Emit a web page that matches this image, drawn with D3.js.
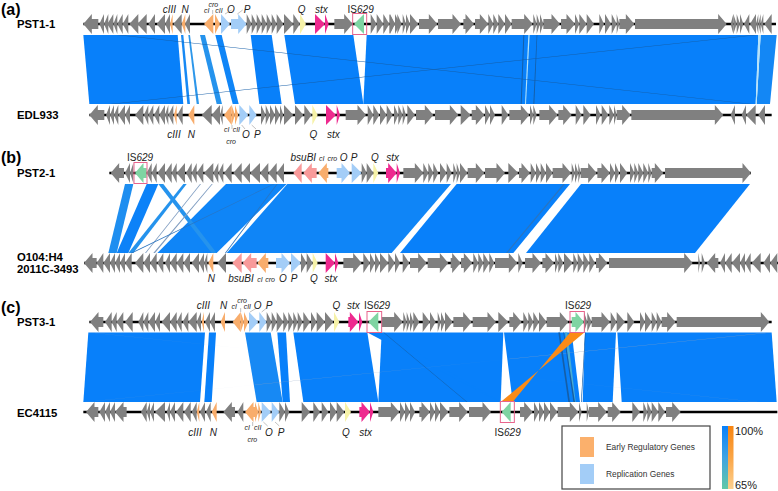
<!DOCTYPE html>
<html>
<head>
<meta charset="utf-8">
<script src="https://cdn.jsdelivr.net/npm/d3@7"></script>
<style>
html, body { margin: 0; padding: 0; background: #fff; }
text { font-family: "Liberation Sans", Arial, sans-serif; }
</style>
</head>
<body>
<div id="place"></div>
<script>
// genes: [start, end] on the shared position axis, grouped by strand and kind
const a1Left = [[250,295],[298,312],[312,325],[322,340],[340,352],[352,368],[368,385],[388,415],[412,440],[445,465],[470,495],[495,510],[520,545],[555,570],[2192,2200],[2232,2248],[2250,2268],[2268,2275],[2275,2282],[2282,2290],[2293,2315]];
const a1Right = [[740,755],[755,770],[770,785],[785,800],[800,815],[815,830],[830,850],[852,880],[880,900],[1003,1058],[1112,1130],[1130,1150],[1150,1168],[1168,1185],[1185,1200],[1170,1185],[1192,1205],[1208,1218],[1218,1230],[1230,1255],[1257,1312],[1314,1383],[1390,1422],[1425,1465],[1465,1480],[1480,1495],[1495,1515],[1515,1535],[1535,1598],[1600,1610],[1610,1620],[1620,1630],[1630,1680],[1683,1725],[1725,1738],[1738,1760],[1760,1782],[1798,1812],[1815,1833],[1835,1850],[1850,1858],[1858,1903],[1905,2180],[2200,2210],[2210,2220],[2220,2230]];
const a1Colored = [[510,518,-1,"early"],[545,556,-1,"early"],[612,640,-1,"early"],[645,660,1,"early"],[663,690,1,"repl"],[693,740,1,"repl"],[900,918,1,"q"],[945,975,1,"stx"],[975,986,1,"stx"],[1062,1092,-1,"is"]];

const a2Left = [[268,313],[318,330],[330,342],[342,355],[355,375],[375,390],[405,430],[432,445],[445,460],[462,478],[478,495],[495,505],[505,520],[532,548],[605,635],[635,660],[660,668],[2192,2205],[2225,2238],[2238,2267],[2275,2295]];
const a2Right = [[783,797],[797,810],[810,825],[825,840],[840,850],[852,880],[885,910],[913,935],[1037,1098],[1103,1120],[1120,1138],[1140,1160],[1160,1178],[1182,1195],[1195,1208],[1208,1218],[1222,1245],[1248,1300],[1305,1375],[1382,1412],[1415,1453],[1455,1470],[1470,1485],[1505,1525],[1528,1588],[1590,1600],[1600,1610],[1618,1673],[1675,1715],[1727,1745],[1750,1772],[1788,1802],[1805,1825],[1828,1842],[1842,1850],[1850,1892],[1894,2170]];
const a2Colored = [[522,530,-1,"early"],[565,583,-1,"early"],[672,695,-1,"early"],[695,705,1,"early"],[705,715,1,"early"],[718,745,1,"repl"],[748,770,1,"repl"],[937,953,1,"q"],[978,1008,1,"stx"],[1010,1020,1,"stx"]];

const b1Left = [[332,372],[375,390],[390,400],[440,455],[455,470],[472,495],[495,515],[515,530],[530,555],[558,575],[575,590],[590,610],[612,640],[640,655],[655,670],[672,695],[700,725],[725,750],[750,780],[780,805],[805,830],[830,852]];
const b1Right = [[1085,1100],[1100,1120],[1210,1270],[1270,1285],[1285,1300],[1300,1315],[1320,1340],[1340,1355],[1360,1370],[1370,1380],[1380,1402],[1403,1453],[1455,1515],[1525,1555],[1557,1590],[1592,1608],[1608,1622],[1622,1638],[1638,1658],[1658,1713],[1715,1725],[1725,1735],[1735,1742],[1742,1790],[1792,1830],[1830,1845],[1845,1858],[1860,1882],[1890,1903],[1903,1915],[1915,1930],[1930,1945],[1945,1955],[1955,1990],[1995,2253]];
const b1Colored = [[405,440,-1,"is"],[880,905,-1,"bsu"],[910,950,-1,"bsu"],[955,985,-1,"early"],[1010,1050,1,"repl"],[1055,1085,1,"repl"],[1120,1135,1,"q"],[1158,1190,1,"stx"],[1190,1200,1,"stx"]];

const b2Left = [[252,290],[290,310],[310,330],[330,345],[345,360],[360,375],[375,395],[405,430],[430,450],[450,470],[472,490],[495,510],[510,530],[530,550],[550,570],[575,597],[597,612],[612,622],[652,678],[2120,2155],[2160,2175],[2175,2195],[2195,2220],[2220,2235],[2235,2252],[2255,2282],[2290,2310],[2310,2332]];
const b2Right = [[903,920],[920,938],[1030,1085],[1090,1110],[1110,1125],[1125,1140],[1140,1165],[1165,1185],[1185,1200],[1208,1228],[1230,1280],[1283,1345],[1352,1382],[1383,1417],[1420,1435],[1435,1450],[1450,1468],[1468,1483],[1485,1552],[1555,1568],[1575,1623],[1627,1662],[1665,1675],[1675,1690],[1692,1718],[1720,1733],[1733,1750],[1750,1768],[1768,1785],[1788,1822],[1827,2078],[2095,2100],[2105,2115]];
const b2Colored = [[625,640,-1,"early"],[697,725,-1,"bsu"],[728,770,-1,"bsu"],[772,805,-1,"early"],[828,870,1,"repl"],[873,903,1,"repl"],[938,953,1,"q"],[977,1005,1,"stx"],[1005,1015,1,"stx"]];

const c1Left = [[270,310],[315,335],[335,350],[350,370],[375,398],[415,430],[430,445],[445,465],[465,480],[485,510],[510,530],[530,545],[548,565],[565,590],[590,603],[615,630],[630,645]];
const c1Right = [[800,815],[815,830],[830,850],[850,865],[865,880],[880,893],[893,908],[910,930],[933,950],[950,975],[975,1000],[1145,1208],[1210,1220],[1220,1230],[1230,1240],[1240,1258],[1268,1290],[1290,1307],[1313,1323],[1323,1335],[1335,1358],[1360,1415],[1418,1488],[1495,1525],[1528,1565],[1570,1585],[1585,1600],[1600,1617],[1617,1640],[1640,1705],[1752,1762],[1762,1775],[1775,1830],[1832,1850],[1850,1875],[1882,1903],[1920,1935],[1935,1955],[1955,1970],[1970,1985],[1985,2027],[2030,2308]];
const c1Colored = [[605,612,-1,"early"],[662,675,-1,"early"],[698,722,-1,"early"],[722,732,1,"early"],[732,745,1,"early"],[747,775,1,"repl"],[778,800,1,"repl"],[1002,1018,1,"q"],[1045,1075,1,"stx"],[1077,1087,1,"stx"],[1105,1135,-1,"is"],[1715,1752,1,"is"]];

const c2Left = [[258,295],[298,315],[315,330],[330,345],[345,380],[423,440],[440,450],[450,462],[465,495],[500,510],[510,525],[528,550],[552,572],[575,590],[600,615],[618,632],[670,705],[712,730]];
const c2Right = [[838,855],[855,868],[905,930],[940,960],[965,985],[990,1010],[1010,1033],[1135,1198],[1200,1215],[1215,1230],[1230,1245],[1258,1290],[1290,1305],[1305,1320],[1320,1345],[1348,1403],[1407,1473],[1560,1598],[1602,1617],[1617,1632],[1632,1650],[1650,1672],[1673,1735],[1737,1745],[1760,1767],[1767,1820],[1823,1862],[1897,1920],[1930,1942],[1942,1955],[1955,1975],[1975,1995],[1998,2042]];
const c2Colored = [[590,598,-1,"early"],[635,650,-1,"early"],[735,765,-1,"early"],[765,775,1,"early"],[775,783,1,"early"],[785,813,1,"repl"],[815,838,1,"repl"],[1035,1053,1,"q"],[1078,1110,1,"stx"],[1110,1120,1,"stx"],[1505,1532,-1,"is"]];

// blocks of similarity: [top start, top end, bottom start, bottom end, % identity]
const aBlocks = [[250,533,268,550,100],[543,550,562,570,96],[565,570,590,597,90],[600,615,650,666,92],[646,665,698,716,98],[752,815,778,845,100],[853,1060,885,1090,100],[1100,2275,1090,2267,100],[2282,2330,2270,2310,97]];
const bBlocks = [[375,400,325,350,94],[440,475,350,385,99],[550,560,385,400,92],[678,860,472,650,98],[862,1353,680,1175,98],[1370,1710,1200,1540,100],[1743,2250,1578,2085,100],[475,490,635,650,92]];
const cBlocks = [[265,615,250,600,100],[627,648,613,635,100],[735,812,770,848,96],[832,858,848,870,100],[880,1102,910,1135,100],[1145,1510,1135,1502,100],[1512,1715,1538,1740,100],[1755,1848,1748,1838,100],[1852,2315,1865,2330,100],[1102,1145,1500,1503,100]];
const cBlocksPale = [[1695,1702,1720,1727,80]];
const cInverted = [[1710,1753,1538,1502,100]];

// short matches that read as thin dark lines: [top start, top end, bottom start, bottom end]
const aDark = [[350,362,2245,2255],[2260,2272,330,342],[1570,1573,1562,1565],[1610,1612,1600,1603]];
const bDark = [[1690,1695,1518,1522],[830,833,675,678],[820,823,392,398]];
const bGrey = [[600,603,435,438],[635,638,460,465]];
const cDark = [[1675,1680,1705,1710],[1690,1692,1720,1725],[1755,1757,1743,1745],[1150,1152,1400,1402]];
const cGrey = [[270,273,2270,2273],[2310,2313,255,258]];
const aPale = [[1585,1589,1575,1578],[2275,2282,2267,2270]];

// gene names on the tracks: [name, position, row]
const a1Names = [["cIII",508,0],["N",555,0],["cro",640,-1],["cI",620,0],["cII",657,0],["O",693,0],["P",741,0],["Q",905,0],["stx",964,0]];
const a2Names = [["cIII",522,0],["N",574,0],["cI",680,-1],["cII",709,-1],["cro",693,1],["O",738,0],["P",772,0],["Q",940,0],["stx",1000,0]];
const b1Names = [["bsuBI",910,0],["cI",965,0],["cro",997,0],["O",1031,0],["P",1062,0],["Q",1125,0],["stx",1178,0]];
const b2Names = [["N",634,0],["bsuBI",723,0],["cI",780,0],["cro",810,0],["O",849,0],["P",882,0],["Q",942,0],["stx",993,0]];
const c1Names = [["cIII",610,0],["N",671,0],["cro",726,-1],["cI",703,0],["cII",742,0],["O",773,0],["P",807,0],["Q",1009,0],["stx",1060,0]];
const c2Names = [["cIII",585,0],["N",640,0],["cI",742,-1],["cII",773,-1],["cro",757,1],["O",807,0],["P",843,0],["Q",1038,0],["stx",1097,0]];

const isLabels = [["a1",1082],["b1",420],["c1",1131],["c1",1734],["c2",1523]];
const isBoxes = [["a1",1058,1100],["b1",402,441],["c1",1101,1145],["c1",1710,1753],["c2",1501,1543]];

// thin connectors from a gene up or down to its name
const leaderLines = [["a1",675,695],["a1",712,728],["a1",638,638],["a2",725,735],["a2",755,768],["a2",696,696],["c1",750,770],["c1",785,800],["c1",722,722],["c2",790,803],["c2",825,838],["c2",758,758]];

const legendNames = ["Early Regulatory Genes", "Replication Genes"];
const identityTicks = ["100%", "65%"];

const width = 778, height = 491;
const x = d3.scaleLinear().domain([0, 2334]).range([0, width]);

const trackY = { a1: 24, a2: 115, b1: 173, b2: 263, c1: 322, c2: 412 };
const trackLine = { a1: [250, 2328], a2: [268, 2315], b1: [328, 2253], b2: [252, 2334], c1: [268, 2315], c2: [250, 2332] };
const bandY = { a: [35, 104], b: [184, 253], c: [332.5, 402] };

const geneColor = { gray: "#808080", early: "#f8ad6c", repl: "#a3cdf7", q: "#f6f2a8", stx: "#ee2a8f", is: "#7fd4a2", bsu: "#f89a9a" };
const blueScale = d3.scaleLinear().domain([65, 85, 100]).range(["#62c8a6", "#3fa3e2", "#0880fa"]);
const orangeScale = d3.scaleLinear().domain([65, 100]).range(["#fdd08e", "#f78410"]);

const svg = d3.select("#place").append("svg")
    .attr("width", width).attr("height", height)
    .style("display", "block");

const closed = d3.line().curve(d3.curveLinearClosed);

function ribbon(d, band) {
    const [y0, y1] = bandY[band];
    return closed([[x(d[0]), y0], [x(d[1]), y0], [x(d[3]), y1], [x(d[2]), y1]]);
}

function geneShape(d, y, dir) {
    const a = x(d[0]), b = x(d[1]), len = b - a;
    const head = Math.min(len, 8.5), hh = 10, bh = 5;
    if (dir > 0) {
        if (len <= 10) return closed([[a, y - hh], [b, y], [a, y + hh]]);
        return closed([[a, y - bh], [b - head, y - bh], [b - head, y - hh], [b, y], [b - head, y + hh], [b - head, y + bh], [a, y + bh]]);
    }
    if (len <= 10) return closed([[b, y - hh], [a, y], [b, y + hh]]);
    return closed([[b, y - bh], [a + head, y - bh], [a + head, y - hh], [a, y], [a + head, y + hh], [a + head, y + bh], [b, y + bh]]);
}

function drawBlocks(data, band, fill) {
    svg.append("g").selectAll("path").data(data).join("path")
        .attr("d", d => ribbon(d, band))
        .attr("fill", fill);
}

// similarity bands first so the tracks sit on top
drawBlocks(aBlocks, "a", d => blueScale(d[4]));
drawBlocks(aPale, "a", "#b4e2f8");
drawBlocks(aDark, "a", "#155ea8");
drawBlocks(bBlocks, "b", d => blueScale(d[4]));
drawBlocks(bGrey, "b", "#7f9cc0");
drawBlocks(bDark, "b", "#2a74c0");
drawBlocks(cBlocks, "c", d => blueScale(d[4]));
drawBlocks(cBlocksPale, "c", d => blueScale(d[4]));
drawBlocks(cGrey, "c", "#8aa0c0");
drawBlocks(cDark, "c", "#155ea8");
drawBlocks(cInverted, "c", "#fb8b17");

function drawTrack(key, left, right, colored) {
    const y = trackY[key];
    const g = svg.append("g");
    g.append("line")
        .attr("x1", x(trackLine[key][0])).attr("x2", x(trackLine[key][1]))
        .attr("y1", y).attr("y2", y)
        .attr("stroke", "#000").attr("stroke-width", 2.5);
    g.selectAll(".l").data(left).join("path").attr("class", "l")
        .attr("d", d => geneShape(d, y, -1)).attr("fill", geneColor.gray);
    g.selectAll(".r").data(right).join("path").attr("class", "r")
        .attr("d", d => geneShape(d, y, 1)).attr("fill", geneColor.gray);
    g.selectAll(".c").data(colored).join("path").attr("class", "c")
        .attr("d", d => geneShape(d, y, d[2])).attr("fill", d => geneColor[d[3]]);
}

drawTrack("a1", a1Left, a1Right, a1Colored);
drawTrack("a2", a2Left, a2Right, a2Colored);
drawTrack("b1", b1Left, b1Right, b1Colored);
drawTrack("b2", b2Left, b2Right, b2Colored);
drawTrack("c1", c1Left, c1Right, c1Colored);
drawTrack("c2", c2Left, c2Right, c2Colored);

svg.append("g").selectAll("rect").data(isBoxes).join("rect")
    .attr("x", d => x(d[1])).attr("width", d => x(d[2]) - x(d[1]))
    .attr("y", d => trackY[d[0]] - 10.5).attr("height", 21)
    .attr("fill", "none").attr("stroke", "#e8648c").attr("stroke-width", 1);

// names above the first track of a pair, below the second
const nameOffset = { a1: -15, a2: 19, b1: -16, b2: 15, c1: -17, c2: 20 };

function drawNames(key, names) {
    const y = trackY[key] + nameOffset[key];
    svg.append("g").selectAll("text").data(names).join("text")
        .attr("x", d => x(d[1]))
        .attr("y", d => y + d[2] * 6 + 3.5)
        .attr("text-anchor", "middle")
        .attr("font-style", "italic")
        .attr("font-size", d => (d[0] == "cI" || d[0] == "cII" || d[0] == "cro") ? 7 : 10)
        .attr("fill", "#222")
        .text(d => d[0]);
}

drawNames("a1", a1Names);
drawNames("a2", a2Names);
drawNames("b1", b1Names);
drawNames("b2", b2Names);
drawNames("c1", c1Names);
drawNames("c2", c2Names);

const isText = svg.append("g").selectAll("text").data(isLabels).join("text")
    .attr("x", d => x(d[1]))
    .attr("y", d => trackY[d[0]] + nameOffset[d[0]] + 3.5)
    .attr("text-anchor", "middle").attr("font-size", 10).attr("fill", "#222");
isText.append("tspan").text("IS");
isText.append("tspan").attr("font-style", "italic").text("629");

svg.append("g").selectAll("line").data(leaderLines).join("line")
    .attr("x1", d => x(d[1])).attr("x2", d => x(d[2]))
    .attr("y1", d => trackY[d[0]] + (nameOffset[d[0]] < 0 ? -10 : 10))
    .attr("y2", d => trackY[d[0]] + (nameOffset[d[0]] < 0 ? -14 : 14))
    .attr("stroke", "#999").attr("stroke-width", 0.6);

// strain names and panel letters
const strainLabels = [["PST1-1", 24], ["EDL933", 115], ["PST2-1", 173], ["O104:H4", 257], ["2011C-3493", 269], ["PST3-1", 322], ["EC4115", 413]];
const panelLabels = [["(a)", 9], ["(b)", 157], ["(c)", 307]];

svg.append("g").selectAll("text").data(strainLabels).join("text")
    .attr("x", 17).attr("y", d => d[1] + 4)
    .attr("font-size", 11.3).attr("font-weight", "bold").text(d => d[0]);
svg.append("g").selectAll("text").data(panelLabels).join("text")
    .attr("x", 1).attr("y", d => d[1] + 5.5)
    .attr("font-size", 16).attr("font-weight", "bold").text(d => d[0]);

// legend
svg.append("rect").attr("x", 562).attr("y", 426).attr("width", 148).attr("height", 63)
    .attr("fill", "#fff").attr("stroke", "#444").attr("stroke-width", 1.2);

const legend = svg.append("g").selectAll("g").data(legendNames).join("g")
    .attr("transform", (d, i) => "translate(0," + (437 + i * 27) + ")");
legend.append("rect").attr("x", 580).attr("width", 14).attr("height", 20)
    .attr("fill", (d, i) => i == 0 ? "#fbb06c" : "#a3cdf7");
legend.append("text").attr("x", 606).attr("y", 13)
    .attr("font-size", 8.4).attr("fill", "#333").text(d => d);

// identity colour bars
const defs = svg.append("defs");
function barGradient(id, scale) {
    const grad = defs.append("linearGradient").attr("id", id)
        .attr("x1", 0).attr("x2", 0).attr("y1", 0).attr("y2", 1);
    [100, 85, 65].forEach((v, i) => {
        grad.append("stop").attr("offset", i / 2).attr("stop-color", scale(v));
    });
}
barGradient("blueBar", blueScale);
barGradient("orangeBar", orangeScale);

svg.append("rect").attr("x", 722).attr("y", 426).attr("width", 6).attr("height", 63).attr("fill", "url(#blueBar)");
svg.append("rect").attr("x", 728).attr("y", 426).attr("width", 5.5).attr("height", 63).attr("fill", "url(#orangeBar)");

svg.append("g").selectAll("text").data(identityTicks).join("text")
    .attr("x", 735).attr("y", (d, i) => i == 0 ? 435 : 489)
    .attr("font-size", 11).attr("fill", "#222").text(d => d);
</script>
</body>
</html>
